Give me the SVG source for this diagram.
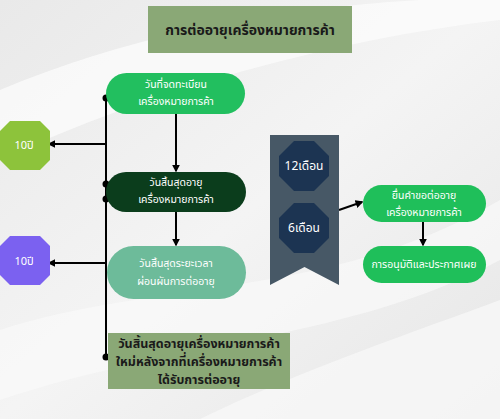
<svg xmlns="http://www.w3.org/2000/svg" width="500" height="419" viewBox="0 0 500 419">
<defs>
<style>
.t{font-family:"Noto Sans Thai","Noto Sans","Liberation Sans",sans-serif;text-anchor:middle;dominant-baseline:central}
.w{fill:#ffffff;font-size:10.5px}
.d{fill:#1a1a1a;font-size:12.5px;font-weight:bold}
.ln{stroke:#000;stroke-width:2;fill:none}
.ar{stroke:#000;stroke-width:2;fill:none;marker-end:url(#ah)}
</style>
<marker id="ah" viewBox="0 0 10 10" refX="8" refY="5" markerWidth="4" markerHeight="4" orient="auto"><path d="M0,0 L10,5 L0,10 Z" fill="#000"/></marker>
<linearGradient id="bg" x1="0" y1="0" x2="1" y2="1">
<stop offset="0" stop-color="#e9e9e9"/><stop offset="0.5" stop-color="#f4f4f4"/><stop offset="1" stop-color="#e6e6e6"/>
</linearGradient>
</defs>
<rect width="500" height="419" fill="url(#bg)"/>
<path d="M0,90 C120,40 250,10 420,0 L500,0 L500,20 C330,40 150,90 0,160 Z" fill="#fbfbfb" opacity="0.8"/>
<path d="M0,330 C150,280 330,300 500,200 L500,260 C350,340 180,340 0,400 Z" fill="#fafafa" opacity="0.7"/>
<path d="M200,419 C300,370 420,330 500,300 L500,419 Z" fill="#f7f7f7" opacity="0.8"/>

<g id="title"><rect x="148" y="6" width="204" height="47" fill="#8aa876"/><text class="t d" x="250" y="30" style="font-size:14px">การต่ออายุเครื่องหมายการค้า</text></g>

<g id="connectors">
<line class="ln" x1="106" y1="98" x2="106" y2="357"/>
<line class="ar" x1="106" y1="144" x2="49" y2="144"/>
<line class="ar" x1="106" y1="263" x2="49" y2="263"/>
<line class="ar" x1="176" y1="114" x2="176" y2="171"/>
<line class="ar" x1="176" y1="212" x2="176" y2="245"/>
<line class="ar" x1="339" y1="210" x2="362" y2="202"/>
<line class="ar" x1="423" y1="222" x2="423" y2="245"/>
<circle cx="106" cy="98" r="3.5" fill="#000"/>
<circle cx="106" cy="184" r="3.5" fill="#000"/>
<circle cx="106" cy="199" r="3.5" fill="#000"/>
<circle cx="106" cy="357" r="3.5" fill="#000"/>
</g>

<g id="n1"><rect x="106" y="73" width="139" height="41" rx="20.5" fill="#22bf5f"/><text class="t w" x="176" y="85">วันที่จดทะเบียน</text><text class="t w" x="176" y="102">เครื่องหมายการค้า</text></g>
<g id="n2"><rect x="106" y="172" width="140" height="40" rx="20" fill="#0b3d1c"/><text class="t w" x="176" y="183">วันสิ้นสุดอายุ</text><text class="t w" x="176" y="200">เครื่องหมายการค้า</text></g>
<g id="n3"><rect x="107" y="246" width="139" height="53" rx="26.5" fill="#6dbb9a"/><text class="t w" x="176" y="264">วันสิ้นสุดระยะเวลา</text><text class="t w" x="176" y="282">ผ่อนผันการต่ออายุ</text></g>

<g id="oct1"><polygon points="10,121 40,121 50,131 50,160 40,170 10,170 0,160 0,131" fill="#8dc33b"/><text class="t w" x="24" y="145" style="font-size:11px">10ปี</text></g>
<g id="oct2"><polygon points="10,236 40,236 50,246 50,275 40,285 10,285 0,275 0,246" fill="#7b61f0"/><text class="t w" x="24" y="261" style="font-size:11px">10ปี</text></g>

<g id="ribbon"><polygon points="270,135 339,135 339,285 304.5,267 270,285" fill="#475866"/></g>
<g id="m12"><polygon points="294,141 314,141 329,156 329,176 314,191 294,191 279,176 279,156" fill="#1c3452"/><text class="t w" x="304" y="166" style="font-size:12px">12เดือน</text></g>
<g id="m6"><polygon points="294,203 314,203 329,218 329,238 314,253 294,253 279,238 279,218" fill="#1c3452"/><text class="t w" x="304" y="228" style="font-size:12px">6เดือน</text></g>

<g id="r1"><rect x="363" y="185" width="123" height="37" rx="18.5" fill="#1fbf5a"/><text class="t w" x="424" y="196">ยื่นคำขอต่ออายุ</text><text class="t w" x="424" y="213">เครื่องหมายการค้า</text></g>
<g id="r2"><rect x="363" y="246" width="123" height="37" rx="18.5" fill="#1fbf5a"/><text class="t w" x="424" y="265">การอนุมัติและประกาศเผย</text></g>

<g id="bottom"><rect x="108" y="333" width="182" height="56" fill="#8aa876"/><text class="t d" x="199" y="344">วันสิ้นสุดอายุเครื่องหมายการค้า</text><text class="t d" x="199" y="362">ใหม่หลังจากที่เครื่องหมายการค้า</text><text class="t d" x="199" y="380">ได้รับการต่ออายุ</text></g>
</svg>
